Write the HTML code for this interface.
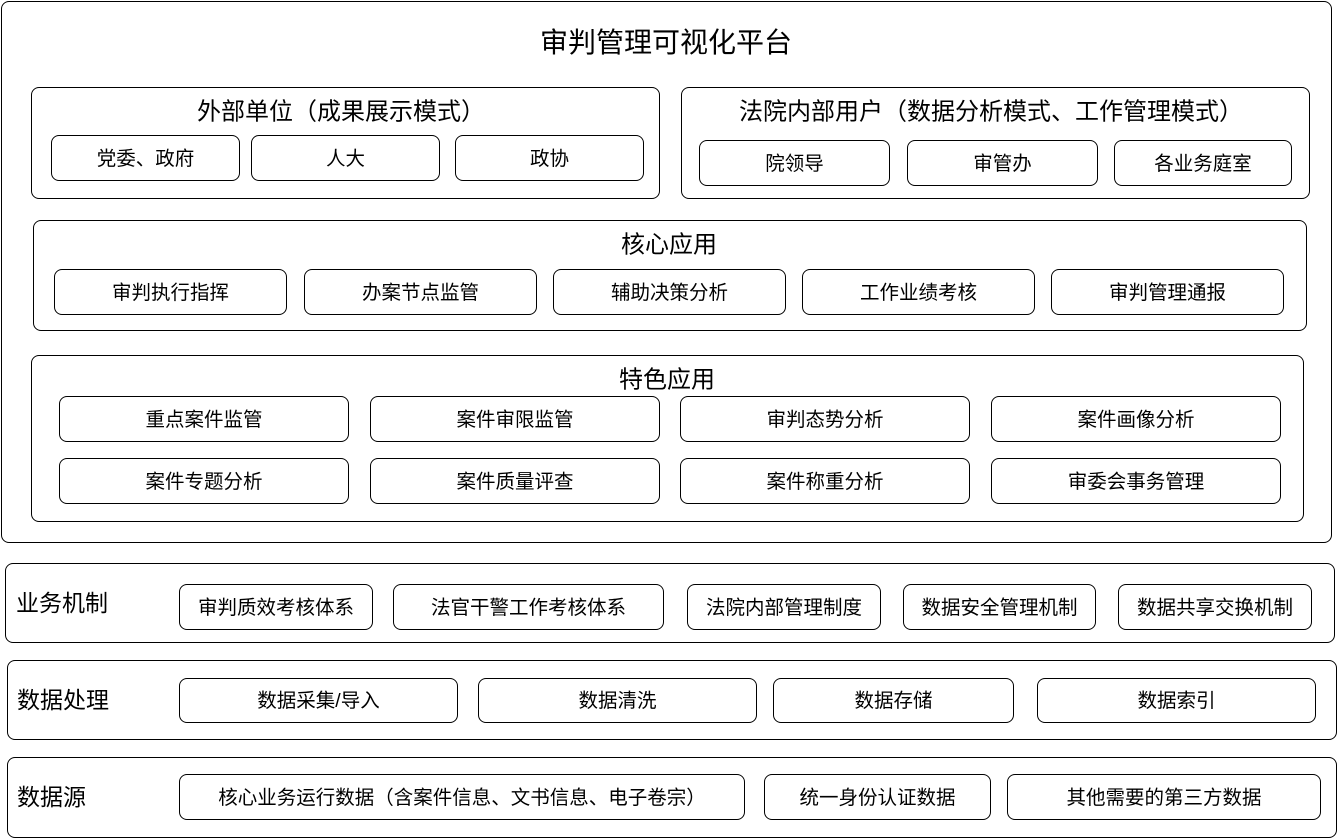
<!DOCTYPE html>
<html><head><meta charset="utf-8"><style>
body{margin:0;width:1338px;height:838px;background:#fff;position:relative;overflow:hidden;font-family:"Liberation Sans","Noto Sans CJK SC",sans-serif;color:#000}
.b{position:absolute;border:1px solid #000;border-radius:8px;box-sizing:border-box;background:#fff}
.i{position:absolute;border:1px solid #000;border-radius:8px;box-sizing:border-box;display:flex;align-items:center;justify-content:center;font-size:19.5px;background:#fff;padding-bottom:4px;white-space:nowrap}
.t{position:absolute;font-size:24px;text-align:center;white-space:nowrap;transform:translate(-50%,-50%)}
.l{position:absolute;font-size:23px;white-space:nowrap;transform:translateY(-50%)}
</style></head><body>
<div class="b" style="left:1px;top:1px;width:1331px;height:542px"></div>
<div class="t" style="left:666px;top:41px;font-size:28px">审判管理可视化平台</div>

<div class="b" style="left:31px;top:87px;width:629px;height:112px"></div>
<div class="t" style="left:341px;top:109px">外部单位（成果展示模式）</div>
<div class="i" style="left:51px;top:135px;width:189px;height:46px">党委、政府</div>
<div class="i" style="left:251px;top:135px;width:189px;height:46px">人大</div>
<div class="i" style="left:455px;top:135px;width:189px;height:46px">政协</div>

<div class="b" style="left:681px;top:87px;width:629px;height:112px"></div>
<div class="t" style="left:991px;top:109px">法院内部用户（数据分析模式、工作管理模式）</div>
<div class="i" style="left:699px;top:140px;width:191px;height:46px">院领导</div>
<div class="i" style="left:907px;top:140px;width:191px;height:46px">审管办</div>
<div class="i" style="left:1114px;top:140px;width:178px;height:46px">各业务庭室</div>

<div class="b" style="left:33px;top:220px;width:1274px;height:111px"></div>
<div class="t" style="left:669px;top:242px">核心应用</div>
<div class="i" style="left:54px;top:269px;width:233px;height:46px">审判执行指挥</div>
<div class="i" style="left:304px;top:269px;width:233px;height:46px">办案节点监管</div>
<div class="i" style="left:553px;top:269px;width:233px;height:46px">辅助决策分析</div>
<div class="i" style="left:802px;top:269px;width:233px;height:46px">工作业绩考核</div>
<div class="i" style="left:1051px;top:269px;width:233px;height:46px">审判管理通报</div>

<div class="b" style="left:31px;top:355px;width:1273px;height:167px"></div>
<div class="t" style="left:667px;top:377px">特色应用</div>
<div class="i" style="left:59px;top:396px;width:290px;height:46px">重点案件监管</div>
<div class="i" style="left:370px;top:396px;width:290px;height:46px">案件审限监管</div>
<div class="i" style="left:680px;top:396px;width:290px;height:46px">审判态势分析</div>
<div class="i" style="left:991px;top:396px;width:290px;height:46px">案件画像分析</div>
<div class="i" style="left:59px;top:458px;width:290px;height:46px">案件专题分析</div>
<div class="i" style="left:370px;top:458px;width:290px;height:46px">案件质量评查</div>
<div class="i" style="left:680px;top:458px;width:290px;height:46px">案件称重分析</div>
<div class="i" style="left:991px;top:458px;width:290px;height:46px">审委会事务管理</div>

<div class="b" style="left:5px;top:563px;width:1330px;height:80px"></div>
<div class="l" style="left:16px;top:601px">业务机制</div>
<div class="i" style="left:179px;top:584px;width:194px;height:46px">审判质效考核体系</div>
<div class="i" style="left:393px;top:584px;width:271px;height:46px">法官干警工作考核体系</div>
<div class="i" style="left:687px;top:584px;width:194px;height:46px">法院内部管理制度</div>
<div class="i" style="left:903px;top:584px;width:193px;height:46px">数据安全管理机制</div>
<div class="i" style="left:1118px;top:584px;width:194px;height:46px">数据共享交换机制</div>

<div class="b" style="left:7px;top:660px;width:1330px;height:80px"></div>
<div class="l" style="left:17px;top:698px">数据处理</div>
<div class="i" style="left:179px;top:678px;width:279px;height:45px">数据采集/导入</div>
<div class="i" style="left:478px;top:678px;width:279px;height:45px">数据清洗</div>
<div class="i" style="left:773px;top:678px;width:241px;height:45px">数据存储</div>
<div class="i" style="left:1037px;top:678px;width:279px;height:45px">数据索引</div>

<div class="b" style="left:7px;top:757px;width:1330px;height:81px"></div>
<div class="l" style="left:17px;top:795px">数据源</div>
<div class="i" style="left:179px;top:774px;width:566px;height:46px">核心业务运行数据（含案件信息、文书信息、电子卷宗）</div>
<div class="i" style="left:764px;top:774px;width:227px;height:46px">统一身份认证数据</div>
<div class="i" style="left:1007px;top:774px;width:314px;height:46px">其他需要的第三方数据</div>
</body></html>
